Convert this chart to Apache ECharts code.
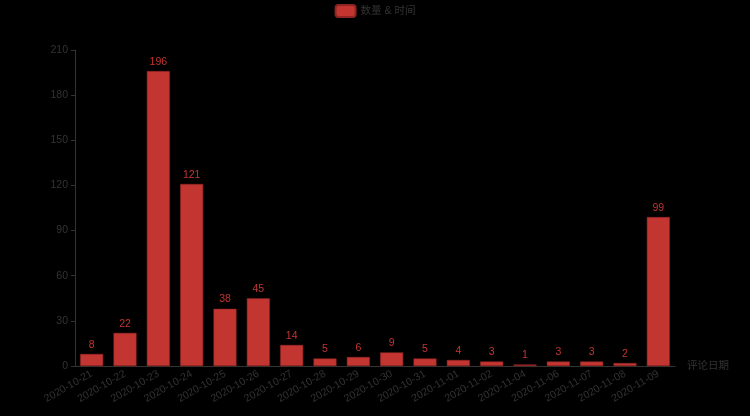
<!DOCTYPE html>
<html><head><meta charset="utf-8">
<script src="https://cdn.jsdelivr.net/npm/echarts@6/dist/echarts.min.js"></script>
<style>html,body{margin:0;padding:0;background:#000;}#c{width:750px;height:416px;}</style>
</head><body><div id="c"></div>
<script>
const categories = ['2020-10-21','2020-10-22','2020-10-23','2020-10-24','2020-10-25','2020-10-26','2020-10-27','2020-10-28','2020-10-29','2020-10-30','2020-10-31','2020-11-01','2020-11-02','2020-11-04','2020-11-06','2020-11-07','2020-11-08','2020-11-09'];
const counts = [8,22,196,121,38,45,14,5,6,9,5,4,3,1,3,3,2,99];
const seriesName = '数量 & 时间';
const xAxisName = '评论日期';

const FONT = '"Liberation Sans", Arial, "Noto Sans CJK SC", sans-serif';
const chart = echarts.init(document.getElementById('c'), null, {renderer:'canvas'});
chart.setOption({
  backgroundColor: '#000',
  animation: false,
  textStyle: {fontFamily: FONT},
  legend: {
    top: -1, left: 'center',
    itemWidth: 20, itemHeight: 12, itemGap: 8,
    textStyle: {color: '#333', fontSize: 10.5, fontFamily: FONT},
    data: [seriesName]
  },
  grid: {left: 75, right: 75, top: 50, bottom: 50, containLabel: false},
  xAxis: {
    type: 'category',
    data: categories,
    name: xAxisName,
    nameGap: 12,
    nameTextStyle: {color: '#333', fontSize: 10.5, fontFamily: FONT},
    axisLine: {lineStyle: {color: '#333'}},
    axisTick: {length: 4, lineStyle: {color: '#333'}},
    axisLabel: {color: '#333', rotate: 30, interval: 0, fontSize: 10.5, margin: 7, fontFamily: FONT}
  },
  yAxis: {
    type: 'value',
    min: 0, max: 210, interval: 30,
    axisLine: {show: true, lineStyle: {color: '#333'}},
    axisTick: {show: true, length: 4, lineStyle: {color: '#333'}},
    axisLabel: {color: '#333', fontSize: 10.5, margin: 7, fontFamily: FONT},
    splitLine: {show: false}
  },
  series: [{
    name: seriesName,
    type: 'bar',
    data: counts,
    itemStyle: {color: '#c23531', borderColor: '#8f2522', borderWidth: 0.5},
    label: {show: true, position: 'top', distance: 4, color: '#c23531', fontSize: 10.5, fontFamily: FONT}
  }]
});
</script></body></html>
